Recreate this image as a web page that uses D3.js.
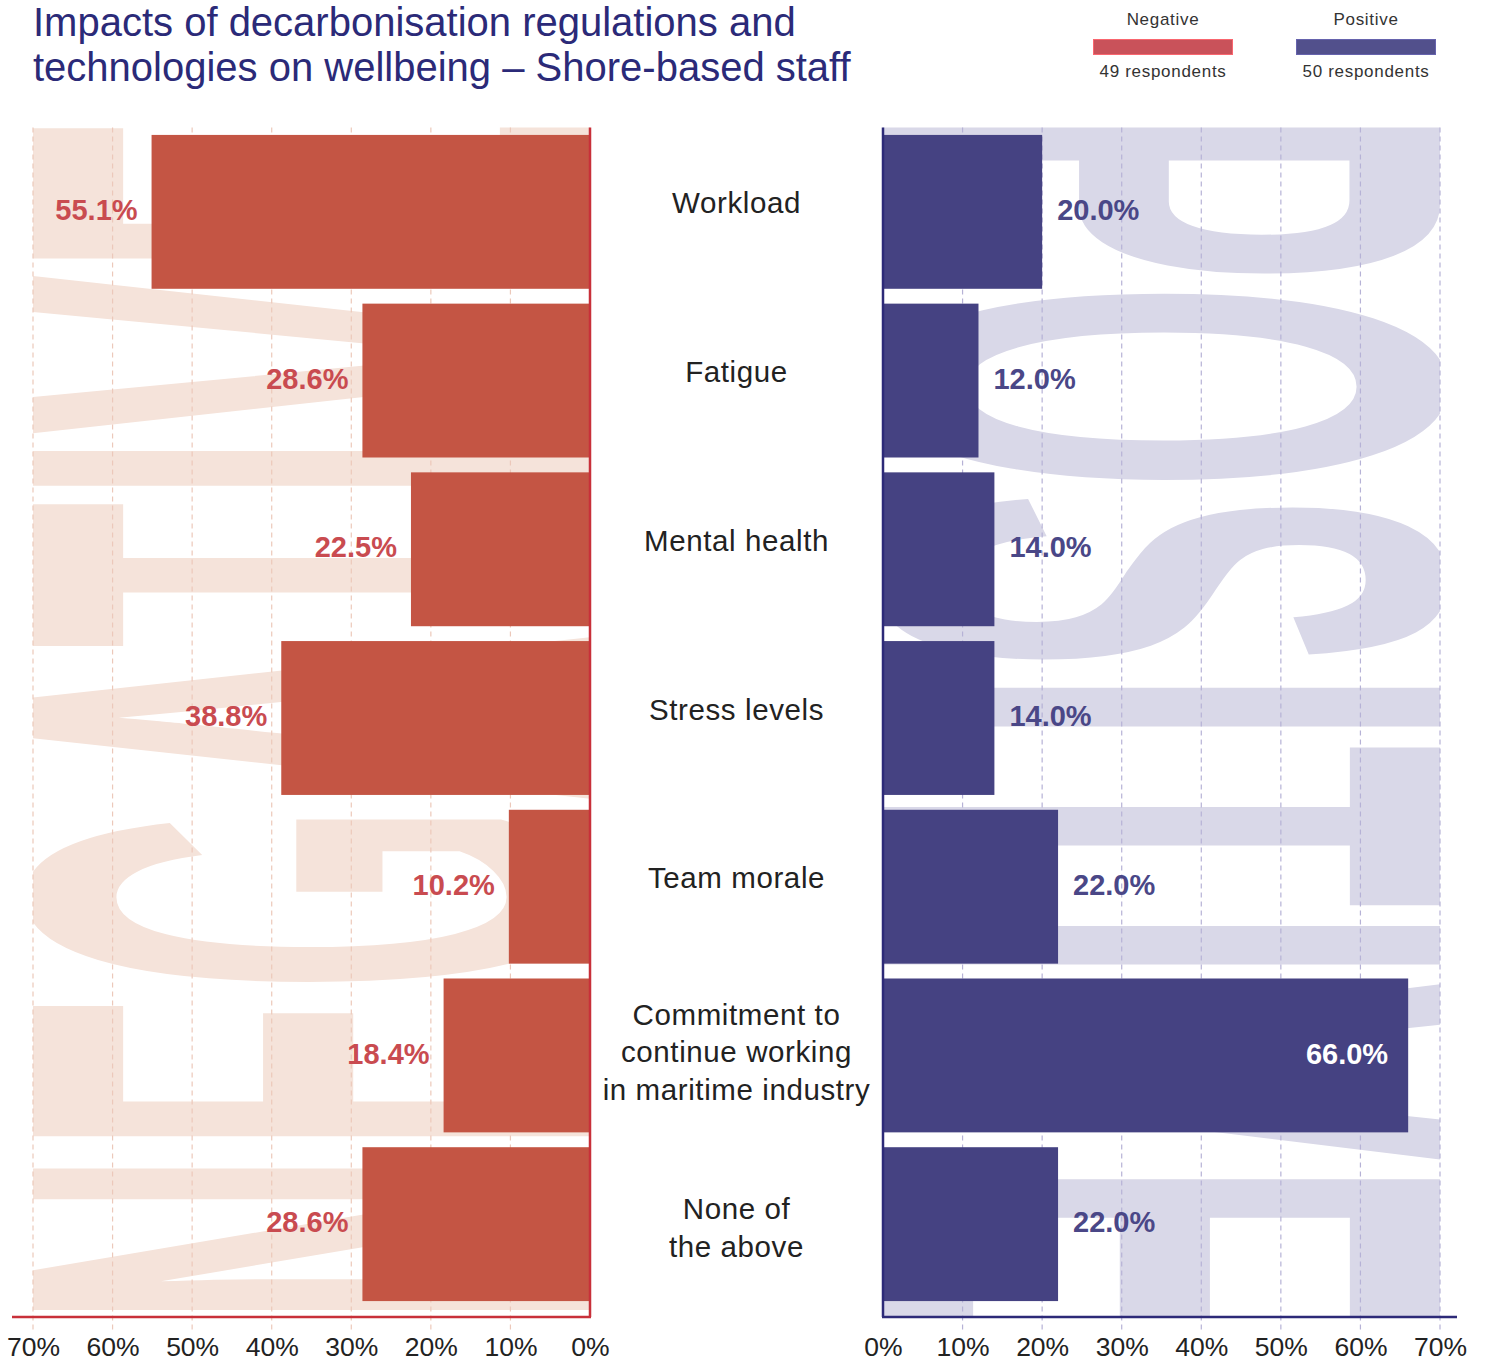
<!DOCTYPE html>
<html>
<head>
<meta charset="utf-8">
<script src="https://cdn.jsdelivr.net/npm/d3@7"></script>
<style>
  html, body { margin: 0; padding: 0; background: #ffffff; }
  svg { display: block; }
</style>
</head>
<body>
<svg id="chart" width="1488" height="1362"></svg>
<script>
// ---- Data -------------------------------------------------------------
const categories = [
  "Workload",
  "Fatigue",
  "Mental health",
  "Stress levels",
  "Team morale",
  "Commitment to continue working in maritime industry",
  "None of the above"
];
const categoryLines = [
  ["Workload"],
  ["Fatigue"],
  ["Mental health"],
  ["Stress levels"],
  ["Team morale"],
  ["Commitment to", "continue working", "in maritime industry"],
  ["None of", "the above"]
];
const negativeValues = [55.1, 28.6, 22.5, 38.8, 10.2, 18.4, 28.6];
const positiveValues = [20.0, 12.0, 14.0, 14.0, 22.0, 66.0, 22.0];
const tickValues = [0, 10, 20, 30, 40, 50, 60, 70];
const seriesNames = ["Negative", "Positive"];
const respondents = [49, 50];
const titleLines = [
  "Impacts of decarbonisation regulations and",
  "technologies on wellbeing \u2013 Shore-based staff"
];

// ---- Layout -----------------------------------------------------------
const plotTop = 127.5, plotBottom = 1317;
const leftX0 = 590, leftX70 = 33;
const rightX0 = 883, rightX70 = 1440;

const colors = {
  negBar: "#c45544", negLabel: "#c94b50", negAxis: "#c8303a",
  negGrid: "#ecc8ba", negWater: "#f5e3da", negLegend: "#c9525a",
  posBar: "#454282", posLabel: "#4a4787", posAxis: "#2d2a78",
  posGrid: "#b6b2d6", posWater: "#d9d8e8", posLegend: "#52508c",
  title: "#2b2a78", text: "#222222"
};

const svg = d3.select("#chart");
const font = "'Liberation Sans', Arial, Helvetica, sans-serif";

const xNeg = d3.scaleLinear().domain([0, 70]).range([leftX0, leftX70]);
const xPos = d3.scaleLinear().domain([0, 70]).range([rightX0, rightX70]);
const y = d3.scaleBand()
  .domain(categories)
  .range([plotTop, 1308.5])
  .paddingInner(0.088)
  .paddingOuter(0.044);

// ---- Clip regions for the big background words -------------------------
const defs = svg.append("defs");
defs.append("clipPath").attr("id", "clip-neg")
  .append("rect")
  .attr("x", xNeg(70)).attr("y", plotTop)
  .attr("width", xNeg(0) - xNeg(70)).attr("height", plotBottom - plotTop);
defs.append("clipPath").attr("id", "clip-pos")
  .append("rect")
  .attr("x", xPos(0)).attr("y", plotTop)
  .attr("width", xPos(70) - xPos(0)).attr("height", plotBottom - plotTop);

// Big rotated words behind each panel; cap height spans the 0–70% range
// (Liberation Sans Bold cap height is ~0.688 em).
const waterSize = (xNeg(0) - xNeg(70)) / 0.688;
svg.append("g").attr("clip-path", "url(#clip-neg)")
  .append("text")
  .attr("transform", `translate(${xNeg(0)},1326) rotate(-90)`)
  .attr("font-family", font).attr("font-weight", 700)
  .attr("font-size", waterSize)
  .attr("textLength", 1212).attr("lengthAdjust", "spacingAndGlyphs")
  .attr("fill", colors.negWater)
  .text("NEGATIVE");

svg.append("g").attr("clip-path", "url(#clip-pos)")
  .append("text")
  .attr("transform", `translate(${xPos(0)},104) rotate(90)`)
  .attr("font-family", font).attr("font-weight", 700)
  .attr("font-size", waterSize)
  .attr("textLength", 1236).attr("lengthAdjust", "spacingAndGlyphs")
  .attr("fill", colors.posWater)
  .text("POSITIVE");

// ---- Grid lines ---------------------------------------------------------
const gridTicks = tickValues.filter(d => d > 0);
svg.append("g").selectAll("line").data(gridTicks).join("line")
  .attr("x1", d => xNeg(d)).attr("x2", d => xNeg(d))
  .attr("y1", plotTop).attr("y2", plotBottom + 13)
  .attr("stroke", colors.negGrid).attr("stroke-width", 1.2)
  .attr("stroke-dasharray", "5,4");
svg.append("g").selectAll("line").data(gridTicks).join("line")
  .attr("x1", d => xPos(d)).attr("x2", d => xPos(d))
  .attr("y1", plotTop).attr("y2", plotBottom + 13)
  .attr("stroke", colors.posGrid).attr("stroke-width", 1.2)
  .attr("stroke-dasharray", "5,4");

// ---- Bars -------------------------------------------------------------
svg.append("g").selectAll("rect").data(negativeValues).join("rect")
  .attr("x", d => xNeg(d))
  .attr("y", (d, i) => y(categories[i]))
  .attr("width", d => xNeg(0) - xNeg(d))
  .attr("height", y.bandwidth())
  .attr("fill", colors.negBar);

svg.append("g").selectAll("rect").data(positiveValues).join("rect")
  .attr("x", xPos(0))
  .attr("y", (d, i) => y(categories[i]))
  .attr("width", d => xPos(d) - xPos(0))
  .attr("height", y.bandwidth())
  .attr("fill", colors.posBar);

// ---- Value labels -----------------------------------------------------
const fmt = d => d.toFixed(1) + "%";
svg.append("g").selectAll("text").data(negativeValues).join("text")
  .attr("x", d => xNeg(d) - 14)
  .attr("y", (d, i) => y(categories[i]) + y.bandwidth() / 2 - 2)
  .attr("dy", "0.35em")
  .attr("text-anchor", "end")
  .attr("font-family", font).attr("font-weight", 700).attr("font-size", 29)
  .attr("fill", colors.negLabel)
  .text(fmt);

svg.append("g").selectAll("text").data(positiveValues).join("text")
  .attr("x", d => d > 60 ? xPos(d) - 20 : xPos(d) + 15)
  .attr("y", (d, i) => y(categories[i]) + y.bandwidth() / 2 - 2)
  .attr("dy", "0.35em")
  .attr("text-anchor", d => d > 60 ? "end" : "start")
  .attr("font-family", font).attr("font-weight", 700).attr("font-size", 29)
  .attr("fill", d => d > 60 ? "#ffffff" : colors.posLabel)
  .text(fmt);

// ---- Category labels (centre column) ----------------------------------
const midX = (xNeg(0) + xPos(0)) / 2;
const lineH = 37.5;
// small vertical nudge of each label block, by its number of lines
const blockShift = { 1: -9, 2: 3, 3: -4 };
const catG = svg.append("g")
  .attr("font-family", font).attr("font-size", 29.5)
  .attr("fill", colors.text).attr("text-anchor", "middle")
  .attr("letter-spacing", 0.6);
categoryLines.forEach((lines, i) => {
  const cy = y(categories[i]) + y.bandwidth() / 2 + blockShift[lines.length];
  const t = catG.append("text")
    .attr("x", midX)
    .attr("y", cy - (lines.length - 1) * lineH / 2);
  lines.forEach((ln, j) => {
    t.append("tspan").attr("x", midX)
      .attr("dy", j === 0 ? "0.36em" : lineH)
      .text(ln);
  });
});

// ---- Axes -------------------------------------------------------------
const tickFmt = d => d + "%";
const axNeg = svg.append("g")
  .attr("transform", `translate(0,${plotBottom})`)
  .call(d3.axisBottom(xNeg).tickValues(tickValues).tickFormat(tickFmt).tickSize(0).tickPadding(24));
const axPos = svg.append("g")
  .attr("transform", `translate(0,${plotBottom})`)
  .call(d3.axisBottom(xPos).tickValues(tickValues).tickFormat(tickFmt).tickSize(0).tickPadding(24));
[axNeg, axPos].forEach(ax => {
  ax.select(".domain").remove();
  ax.selectAll("text")
    .attr("font-family", font).attr("font-size", 26.5)
    .attr("fill", colors.text).attr("dy", "0.55em");
});

// Axis lines: baseline plus the 0% spine of each panel
svg.append("line")
  .attr("x1", 12).attr("x2", xNeg(0) + 1)
  .attr("y1", plotBottom).attr("y2", plotBottom)
  .attr("stroke", colors.negAxis).attr("stroke-width", 2.5);
svg.append("line")
  .attr("x1", xNeg(0)).attr("x2", xNeg(0))
  .attr("y1", plotTop).attr("y2", plotBottom)
  .attr("stroke", colors.negAxis).attr("stroke-width", 2.5);
svg.append("line")
  .attr("x1", xPos(0) - 1).attr("x2", 1457)
  .attr("y1", plotBottom).attr("y2", plotBottom)
  .attr("stroke", colors.posAxis).attr("stroke-width", 2.5);
svg.append("line")
  .attr("x1", xPos(0)).attr("x2", xPos(0))
  .attr("y1", plotTop).attr("y2", plotBottom)
  .attr("stroke", colors.posAxis).attr("stroke-width", 2.5);

// ---- Title ------------------------------------------------------------
svg.append("g").selectAll("text").data(titleLines).join("text")
  .attr("x", 33)
  .attr("y", (d, i) => 36 + i * 45)
  .attr("font-family", font).attr("font-size", 40)
  .attr("fill", colors.title)
  .text(d => d);

// ---- Legend -----------------------------------------------------------
const legendX = [1163, 1366];
const legendColors = [colors.negLegend, colors.posLegend];
const lg = svg.append("g").attr("font-family", font).attr("text-anchor", "middle")
  .attr("fill", "#333333").attr("letter-spacing", 0.7);
seriesNames.forEach((name, i) => {
  lg.append("text").attr("x", legendX[i]).attr("y", 25)
    .attr("font-size", 17).text(name);
  lg.append("rect")
    .attr("x", legendX[i] - 69.5).attr("y", 39.5)
    .attr("width", 139).attr("height", 15)
    .attr("fill", legendColors[i])
    .attr("stroke", d3.color(legendColors[i]).brighter(0.6)).attr("stroke-width", 1);
  lg.append("text").attr("x", legendX[i]).attr("y", 77)
    .attr("font-size", 17).text(respondents[i] + " respondents");
});
</script>
</body>
</html>
